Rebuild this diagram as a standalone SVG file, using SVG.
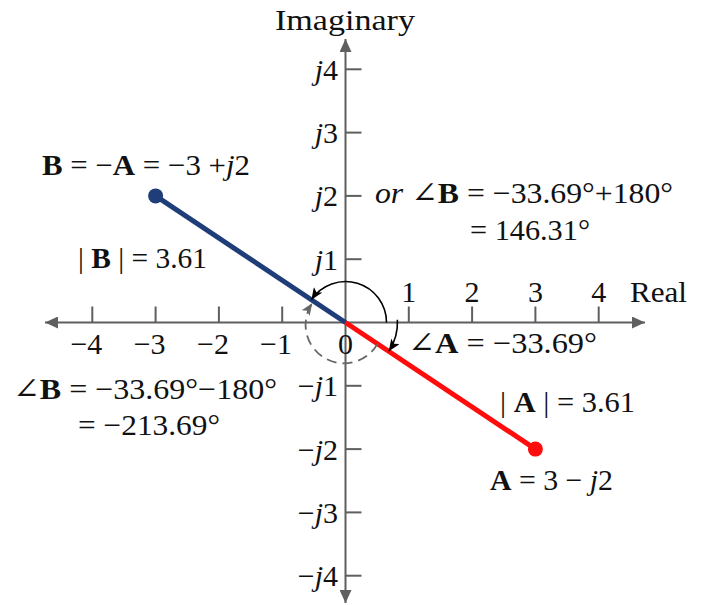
<svg xmlns="http://www.w3.org/2000/svg" width="701" height="605" viewBox="0 0 701 605">
<style>
text{font-family:"Liberation Serif","DejaVu Serif",serif;font-size:30px;fill:#111}
.b{font-weight:bold}
.i{font-style:italic}
.ax{stroke:#5f5f5f;stroke-width:2;fill:none}
.tk{stroke:#5f5f5f;stroke-width:2}
.yl{text-anchor:end}
.xl{text-anchor:middle}
</style>
<defs>
<marker id="axArr" viewBox="0 0 13 12" refX="13" refY="6" markerWidth="13" markerHeight="12" markerUnits="userSpaceOnUse" orient="auto-start-reverse">
<path d="M0,0 L13,6 L0,12 z" fill="#5f5f5f"/>
</marker>
<marker id="blkArr" viewBox="0 0 12 10" refX="12" refY="5" markerWidth="12" markerHeight="10" markerUnits="userSpaceOnUse" orient="auto">
<path d="M0,0 L12,5 L0,10 L3,5 z" fill="#000"/>
</marker>
<marker id="grArr" viewBox="0 0 12 10" refX="12" refY="5" markerWidth="12" markerHeight="10" markerUnits="userSpaceOnUse" orient="auto">
<path d="M0,0 L12,5 L0,10 L3,5 z" fill="#666"/>
</marker>
</defs>

<g id="axes">
<path class="ax" d="M45,322.5 H645" marker-start="url(#axArr)" marker-end="url(#axArr)"/>
<path class="ax" d="M345.5,603 V39" marker-start="url(#axArr)" marker-end="url(#axArr)"/>
<g id="xticks">
<line class="tk" x1="92.3" y1="306.5" x2="92.3" y2="322.5"/>
<line class="tk" x1="155.6" y1="306.5" x2="155.6" y2="322.5"/>
<line class="tk" x1="218.9" y1="306.5" x2="218.9" y2="322.5"/>
<line class="tk" x1="282.2" y1="306.5" x2="282.2" y2="322.5"/>
<line class="tk" x1="408.8" y1="306.5" x2="408.8" y2="322.5"/>
<line class="tk" x1="472.1" y1="306.5" x2="472.1" y2="322.5"/>
<line class="tk" x1="535.4" y1="306.5" x2="535.4" y2="322.5"/>
<line class="tk" x1="598.7" y1="306.5" x2="598.7" y2="322.5"/>
</g>
<g id="yticks">
<line class="tk" x1="345.5" y1="69.3" x2="361.5" y2="69.3"/>
<line class="tk" x1="345.5" y1="132.6" x2="361.5" y2="132.6"/>
<line class="tk" x1="345.5" y1="195.9" x2="361.5" y2="195.9"/>
<line class="tk" x1="345.5" y1="259.2" x2="361.5" y2="259.2"/>
<line class="tk" x1="345.5" y1="385.8" x2="361.5" y2="385.8"/>
<line class="tk" x1="345.5" y1="449.1" x2="361.5" y2="449.1"/>
<line class="tk" x1="345.5" y1="512.4" x2="361.5" y2="512.4"/>
<line class="tk" x1="345.5" y1="575.7" x2="361.5" y2="575.7"/>
</g>
<g id="axis-labels">
<text x="345" y="30" class="xl" textLength="140" lengthAdjust="spacingAndGlyphs">Imaginary</text>
<text x="630" y="302" textLength="57" lengthAdjust="spacingAndGlyphs">Real</text>
<text x="408.8" y="302" class="xl">1</text>
<text x="472.1" y="302" class="xl">2</text>
<text x="535.4" y="302" class="xl">3</text>
<text x="598.7" y="302" class="xl">4</text>
<text x="102.3" y="354" class="yl">−4</text>
<text x="165.6" y="354" class="yl">−3</text>
<text x="228.9" y="354" class="yl">−2</text>
<text x="292" y="354" class="yl">−1</text>
<text x="345.5" y="354" class="xl">0</text>
<text x="338" y="79.8" class="yl"><tspan class="i">j</tspan>4</text>
<text x="338" y="143.1" class="yl"><tspan class="i">j</tspan>3</text>
<text x="338" y="206.4" class="yl"><tspan class="i">j</tspan>2</text>
<text x="338" y="269.7" class="yl"><tspan class="i">j</tspan>1</text>
<text x="338" y="396.3" class="yl">−<tspan class="i">j</tspan>1</text>
<text x="338" y="459.6" class="yl">−<tspan class="i">j</tspan>2</text>
<text x="338" y="522.9" class="yl">−<tspan class="i">j</tspan>3</text>
<text x="338" y="586.2" class="yl">−<tspan class="i">j</tspan>4</text>
</g>
</g>

<g id="connectors">
<line id="vecB" x1="345.5" y1="322.5" x2="155.6" y2="195.9" stroke="#1f3d78" stroke-width="5"/>
<line id="vecA" x1="345.5" y1="322.5" x2="535.4" y2="449.1" stroke="#ff0d0d" stroke-width="5"/>
<path id="arcPlus" d="M386.5,322.5 A41,41 0 0 0 311.4,299.8" fill="none" stroke="#000" stroke-width="1.6" marker-end="url(#blkArr)"/>
<path id="arcA" d="M397.4,319.8 A52,52 0 0 1 388.8,351.3" fill="none" stroke="#000" stroke-width="1.6" marker-end="url(#blkArr)"/>
<path id="arcMinus" d="M377.5,343.9 A38.5,38.5 0 1 1 312.2,303.2" fill="none" stroke="#666" stroke-width="1.8" stroke-dasharray="10,6" marker-end="url(#grArr)"/>
</g>

<g id="nodeB">
<circle cx="155.6" cy="195.9" r="7.5" fill="#1f3d78"/>
<text x="42" y="175" textLength="208" lengthAdjust="spacingAndGlyphs"><tspan class="b">B</tspan> = −<tspan class="b">A</tspan> = −3 +<tspan class="i">j</tspan>2</text>
<text x="78" y="268" textLength="129" lengthAdjust="spacingAndGlyphs">| <tspan class="b">B</tspan> | = 3.61</text>
</g>

<g id="nodeA">
<circle cx="535.4" cy="449.1" r="7.5" fill="#ff0d0d"/>
<text x="490" y="490" textLength="123" lengthAdjust="spacingAndGlyphs"><tspan class="b">A</tspan> = 3 − <tspan class="i">j</tspan>2</text>
<text x="500" y="412" textLength="135" lengthAdjust="spacingAndGlyphs">| <tspan class="b">A</tspan> | = 3.61</text>
</g>

<g id="angleA">
<text x="408" y="353" textLength="189" lengthAdjust="spacingAndGlyphs">∠<tspan class="b">A</tspan> = −33.69°</text>
</g>

<g id="angleBplus">
<text x="375" y="203" textLength="298" lengthAdjust="spacingAndGlyphs"><tspan class="i">or</tspan> ∠<tspan class="b">B</tspan> = −33.69°+180°</text>
<text x="470" y="240" textLength="120" lengthAdjust="spacingAndGlyphs">= 146.31°</text>
</g>

<g id="angleBminus">
<text x="13" y="399" textLength="264" lengthAdjust="spacingAndGlyphs">∠<tspan class="b">B</tspan> = −33.69°−180°</text>
<text x="78" y="435" textLength="142" lengthAdjust="spacingAndGlyphs">= −213.69°</text>
</g>
</svg>
